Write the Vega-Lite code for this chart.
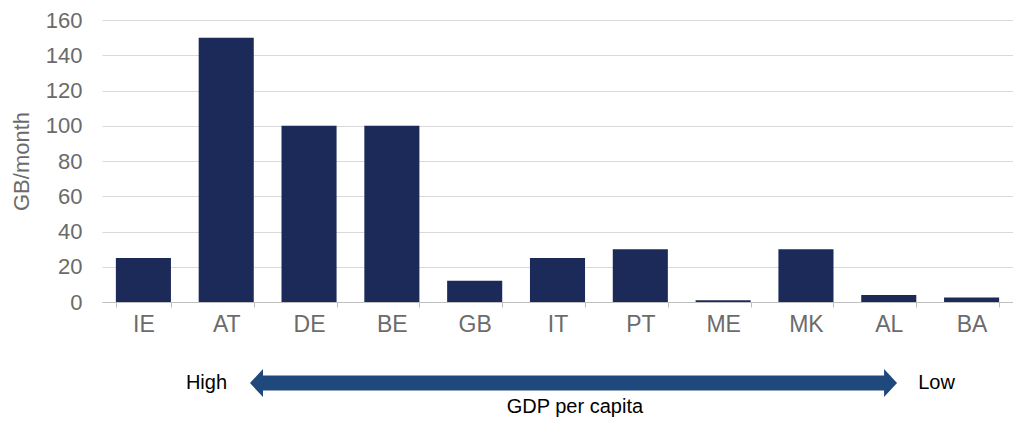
{
  "$schema": "https://vega.github.io/schema/vega-lite/v6.json",
  "width": 911,
  "height": 282,
  "autosize": {"type": "none"},
  "padding": {"left": 102, "top": 20, "right": 0, "bottom": 120},
  "background": "white",
  "config": {
    "view": {"stroke": null},
    "font": "Liberation Sans",
    "axis": {"labelFont": "Liberation Sans", "titleFont": "Liberation Sans"}
  },
  "datasets": {
    "bars": [
      {"country": "IE", "value": 25},
      {"country": "AT", "value": 150},
      {"country": "DE", "value": 100},
      {"country": "BE", "value": 100},
      {"country": "GB", "value": 12},
      {"country": "IT", "value": 25},
      {"country": "PT", "value": 30},
      {"country": "ME", "value": 1},
      {"country": "MK", "value": 30},
      {"country": "AL", "value": 4},
      {"country": "BA", "value": 2.5}
    ],
    "annot": [
      {"part": "arrow", "x1": 1.93, "x2": 9.46, "y": -46},
      {"part": "headLeft", "x1": 1.787, "y": -46},
      {"part": "headRight", "x1": 9.6, "y": -46},
      {"part": "high", "label": "High", "x1": 1.51, "y": -46},
      {"part": "low", "label": "Low", "x1": 9.855, "y": -46},
      {"part": "gdp", "label": "GDP per capita", "x1": 5.71, "y": -59.6}
    ]
  },
  "layer": [
    {
      "data": {"name": "bars"},
      "mark": {"type": "bar", "color": "#1c2a5a"},
      "encoding": {
        "x": {
          "field": "country", "type": "nominal", "sort": null,
          "scale": {"paddingInner": 0.335, "paddingOuter": 0.1675},
          "axis": {
            "title": null, "labelAngle": 0, "labelFontSize": 23, "labelColor": "#6b6b6b",
            "domainColor": "#bfbfbf", "tickColor": "#bfbfbf", "tickSize": 5,
            "tickBand": "extent", "labelPadding": 6
          }
        },
        "y": {
          "field": "value", "type": "quantitative",
          "scale": {"domain": [0, 160], "nice": false},
          "axis": {
            "title": "GB/month", "titleFontSize": 22, "titleColor": "#6b6b6b", "titleFontWeight": "normal",
            "titlePadding": 12, "values": [0, 20, 40, 60, 80, 100, 120, 140, 160],
            "labelOverlap": false, "labelBound": false, "labelFlush": false,
            "labelFontSize": 22, "labelColor": "#6b6b6b", "labelPadding": 20,
            "domain": false, "ticks": false, "gridColor": "#d9d9d9", "gridWidth": 1
          }
        }
      }
    },
    {
      "data": {"name": "annot"},
      "encoding": {
        "x": {"field": "x1", "type": "quantitative", "scale": {"domain": [0, 11], "nice": false, "zero": false}, "axis": null},
        "y": {"field": "y", "type": "quantitative", "scale": {"domain": [0, 160], "nice": false, "zero": false}, "axis": null}
      },
      "layer": [
        {
          "transform": [{"filter": "datum.part === 'arrow'"}],
          "mark": {"type": "rule", "color": "#1f497d", "strokeWidth": 15, "strokeCap": "butt"},
          "encoding": {"x2": {"field": "x2"}}
        },
        {
          "transform": [{"filter": "datum.part === 'headLeft'"}],
          "mark": {"type": "point", "filled": true, "color": "#1f497d", "opacity": 1, "size": 784, "shape": "M0,0L0.93,-1L0.93,1Z"}
        },
        {
          "transform": [{"filter": "datum.part === 'headRight'"}],
          "mark": {"type": "point", "filled": true, "color": "#1f497d", "opacity": 1, "size": 784, "shape": "M0,0L-0.93,-1L-0.93,1Z"}
        },
        {
          "transform": [{"filter": "datum.part === 'high'"}],
          "mark": {"type": "text", "align": "right", "baseline": "middle", "fontSize": 20, "color": "#000000"},
          "encoding": {"text": {"field": "label"}}
        },
        {
          "transform": [{"filter": "datum.part === 'low'"}],
          "mark": {"type": "text", "align": "left", "baseline": "middle", "fontSize": 20, "color": "#000000"},
          "encoding": {"text": {"field": "label"}}
        },
        {
          "transform": [{"filter": "datum.part === 'gdp'"}],
          "mark": {"type": "text", "align": "center", "baseline": "middle", "fontSize": 20, "color": "#000000"},
          "encoding": {"text": {"field": "label"}}
        }
      ]
    }
  ],
  "resolve": {"scale": {"x": "independent", "y": "independent"}, "axis": {"x": "independent", "y": "independent"}}
}
